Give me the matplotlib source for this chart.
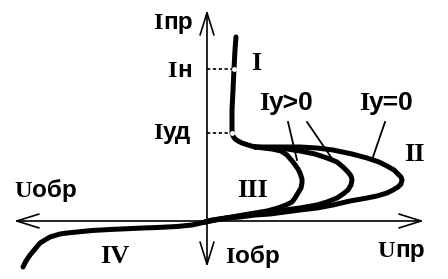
import matplotlib
matplotlib.use('Agg')
import matplotlib.pyplot as plt

# thyristor I-V characteristic, coordinates U (voltage) / I (current), arbitrary units
# on-state branch (region I) down to the latching point and the knee
on_u = [29, 28, 27, 26, 25, 25, 25, 26, 28, 31, 35, 41, 48]
on_i = [184, 171, 152, 131, 111, 96, 88, 85, 82, 80, 78, 76, 74]

# forward blocking branches (regions II/III), Iy=0 is the outer one
outer_u = [48, 65, 93, 110, 126, 145, 160, 172, 180, 187, 191, 194, 195, 194, 191, 186, 180,
           170, 160, 143, 126, 110, 93, 78, 63, 48, 33, 20, 8, -2]
outer_i = [74, 74, 74, 73, 71, 67, 63, 59, 55, 51, 47, 44, 41, 37, 34, 31, 28,
           25, 23, 20, 16, 13, 11, 9, 7, 6, 4, 3, 1, -1]
mid_u = [48, 65, 80, 93, 108, 120, 130, 136, 141, 144, 145, 144, 141, 136, 130, 120, 110,
         93, 78, 63, 48, 33, 20, 8, -2]
mid_i = [74, 73, 72, 70, 67, 63, 59, 54, 49, 45, 41, 36, 31, 27, 23, 19, 16,
         13, 11, 9, 7, 5, 3, 1, -1]
inner_u = [48, 65, 74, 80, 86, 91, 93, 95, 95, 94, 91, 88, 85, 79, 71, 60, 48, 36, 25, 15, 5, -2]
inner_i = [74, 72, 70, 66, 59, 52, 48, 42, 38, 33, 28, 23, 19, 16, 13, 10, 8, 6, 4, 2.5, 1, -1]

# reverse branch (region IV)
rev_u = [-2, -8, -15, -30, -50, -64, -97, -115, -130, -140, -147, -152, -157, -162, -167,
         -172, -177, -181, -184]
rev_i = [-1, -2.5, -4, -5.5, -6.5, -7, -8.5, -9.5, -11, -12, -13, -14.5, -16, -19, -22,
         -28, -34, -40, -46]

# marked currents on the vertical axis
i_hold = 152    # Iн
i_latch = 88    # Iуд

fig = plt.figure(figsize=(4.48, 2.79), dpi=100)
ax = fig.add_axes([0, 0, 1, 1])
ax.set_xlim(-207, 241)
ax.set_ylim(-58, 221)
ax.axis('off')

# axes with open arrow heads
arrow = dict(arrowstyle='<->, head_length=0.8, head_width=0.25', lw=1.2, color='black',
             mutation_scale=20, shrinkA=0, shrinkB=0)
ax.annotate('', xy=(217, 0), xytext=(-193, 0), arrowprops=arrow)
ax.annotate('', xy=(0, 211), xytext=(0, -46), arrowprops=arrow)

curve = dict(color='black', lw=3.6, solid_capstyle='round', solid_joinstyle='round')
for u, i in [(on_u, on_i), (outer_u, outer_i), (mid_u, mid_i), (inner_u, inner_i), (rev_u, rev_i)]:
    ax.plot(u, i, **curve)

# dashed guides to Iн and Iуд
for level, u_end in [(i_hold, 27), (i_latch, 25)]:
    ax.plot([0, u_end], [level, level], color='black', lw=1.2, ls=(0, (2, 1.5)))
    ax.plot(u_end, level, 'o', ms=2.5, mfc='white', mec='white')

# leader lines from the control current labels
ax.plot([81, 90], [99, 61], color='black', lw=1.3)
ax.plot([100, 126], [99, 61], color='black', lw=1.3)
ax.plot([178, 166], [99, 64], color='black', lw=1.3)


def label(u, i, head, tail, size):
    # serif bold letter followed by sans bold subscript-like text
    ax.text(u, i, head, family='Liberation Serif', weight='bold', fontsize=size, ha='right', va='baseline')
    ax.text(u, i, tail, family='Liberation Sans', weight='bold', fontsize=size, ha='left', va='baseline')


label(-44, 192, 'I', 'пр', 17.5)
label(-30, 144, 'I', 'н', 17.5)
label(-44, 82, 'I', 'уд', 17.5)
label(-175, 24, 'U', 'обр', 17.5)
label(28, -42, 'I', 'обр', 17.5)
label(188, -36, 'U', 'пр', 17.5)
label(62, 111, 'I', 'у>0', 19)
label(162, 111, 'I', 'у=0', 19)

roman = dict(family='Liberation Serif', weight='bold', fontsize=19, ha='left', va='baseline')
ax.text(44, 151, 'I', **roman)
ax.text(197, 60, 'II', **roman)
ax.text(30, 24, 'III', **roman)
ax.text(-107, -42, 'IV', **roman)

fig.savefig('out.png', dpi=100)
